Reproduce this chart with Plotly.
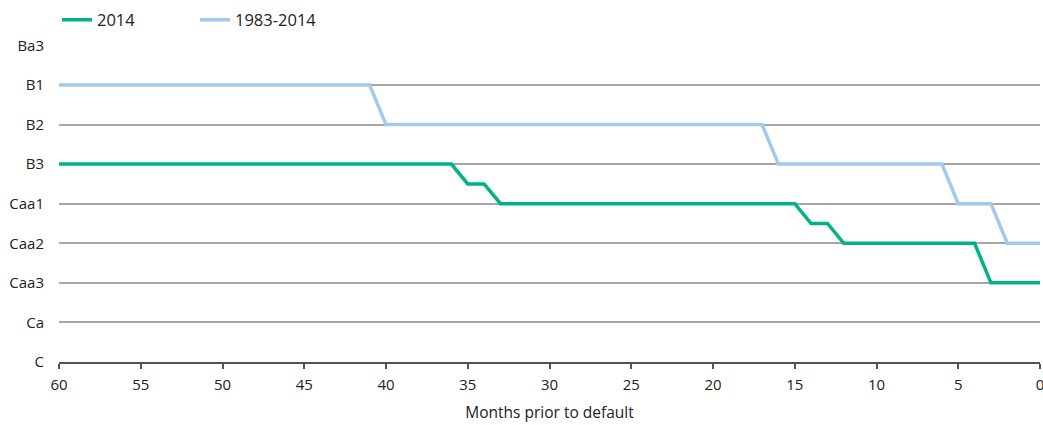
import plotly.graph_objects as go

months = list(range(60, -1, -1))
rating_labels = ["C", "Ca", "Caa3", "Caa2", "Caa1", "B3", "B2", "B1", "Ba3"]
rating_values = list(range(len(rating_labels)))

# average rating level (0=C ... 8=Ba3) by months prior to default
cohort_2014 = [5]*25 + [4.5]*2 + [4]*19 + [3.5]*2 + [3]*9 + [2]*4
cohort_1983_2014 = [7]*20 + [6]*24 + [5]*11 + [4]*3 + [3]*3

x_ticks = list(range(60, -1, -5))

fig = go.Figure()
fig.add_trace(go.Scatter(x=months, y=cohort_2014, mode="lines", name="2014",
                         line=dict(color="#00b386", width=3.5), legend="legend"))
fig.add_trace(go.Scatter(x=months, y=cohort_1983_2014, mode="lines", name="1983-2014",
                         line=dict(color="#a3c9eb", width=3.5), legend="legend2"))

legend_common = dict(orientation="h", y=1 - 20/425, xanchor="left", yanchor="middle",
                     xref="container", yref="container", font=dict(size=16.5),
                     bgcolor="rgba(0,0,0,0)")

fig.update_layout(
    width=1043, height=425,
    margin=dict(l=59, r=3, t=45, b=63, autoexpand=False),
    paper_bgcolor="white", plot_bgcolor="white",
    font=dict(family="Open Sans, Noto Sans, sans-serif", size=15, color="#222222"),
    showlegend=True,
    legend=dict(x=57/1043, **legend_common),
    legend2=dict(x=195/1043, **legend_common),
    xaxis=dict(range=[60, -0.0001], tickmode="array", tickvals=x_ticks,
               ticks="outside", ticklen=5, tickcolor="#4d5358", tickwidth=2,
               showline=True, linecolor="#4d5358", linewidth=2,
               showgrid=False, zeroline=False, ticklabeloverflow="allow",
               ticklabelstandoff=3,
               title=dict(text="Months prior to default", standoff=14,
                          font=dict(size=15.5))),
    yaxis=dict(range=[0, 8.01], tickmode="array", tickvals=rating_values,
               ticktext=rating_labels, showgrid=True, gridcolor="#a6a6a6",
               gridwidth=1.5, zeroline=False, showline=False, ticks="",
               ticklabelstandoff=14),
)

fig.write_html("out.html", config={"displayModeBar": False})

with open("out.html", "r", encoding="utf-8") as f:
    html = f.read()
html = html.replace("<head>", "<head><style>html,body{margin:0;padding:0;overflow:hidden}</style>", 1)
with open("out.html", "w", encoding="utf-8") as f:
    f.write(html)
